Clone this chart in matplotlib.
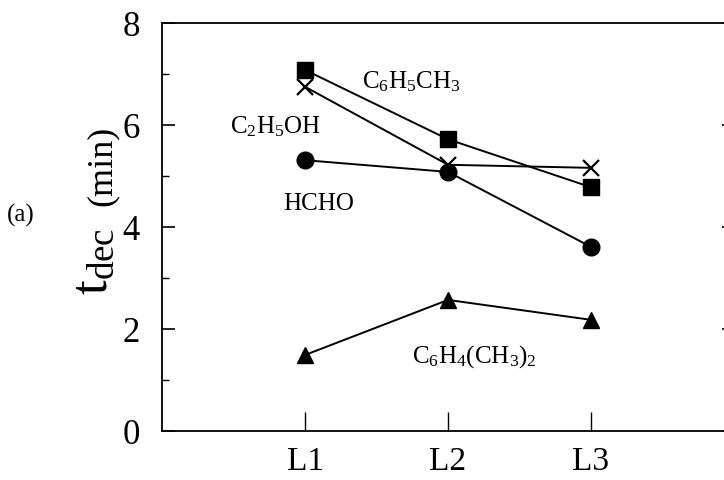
import matplotlib
matplotlib.use("Agg")
import matplotlib.pyplot as plt
from matplotlib.ticker import MultipleLocator

plt.rcParams['font.family'] = ['Liberation Serif', 'DejaVu Serif']
plt.rcParams['mathtext.fontset'] = 'custom'
plt.rcParams['mathtext.rm'] = 'Liberation Serif'
plt.rcParams['mathtext.it'] = 'Liberation Serif'

levels = ["L1", "L2", "L3"]
toluene = [7.08, 5.72, 4.78]
ethanol = [6.75, 5.22, 5.16]
formaldehyde = [5.31, 5.08, 3.61]
xylene = [1.49, 2.57, 2.18]

x = [1, 2, 3]

fig = plt.figure(figsize=(7.24, 4.80), dpi=100)
ax = fig.add_axes([162 / 724, 1 - 431 / 480, 572 / 724, 408 / 480])

ax.plot(x, toluene, color='black', lw=1.4, marker='s', ms=11)
ax.plot(x, ethanol, color='black', lw=1.4, marker='x', ms=11, mew=1.6)
ax.plot(x, formaldehyde, color='black', lw=1.4, marker='o', ms=12)
ax.plot(x, xylene, color='black', lw=1.4, marker='^', ms=12)

ax.set_xlim(0, 4)
ax.set_ylim(0, 8)
ax.set_xticks(x)
ax.set_xticklabels(levels)
ax.yaxis.set_major_locator(MultipleLocator(2))
ax.yaxis.set_minor_locator(MultipleLocator(1))
ax.tick_params(axis='x', direction='in', length=14, width=1.0, labelsize=24, pad=11)
ax.tick_params(axis='y', which='major', direction='in', length=9, width=1.2,
               labelsize=25, pad=16, right=True)
ax.tick_params(axis='y', which='minor', direction='in', length=5, width=1.0, right=True)
for sp in ax.spines.values():
    sp.set_linewidth(1.3)

# species labels next to their curves
lab = dict(fontsize=18, ha='left', va='baseline')
ax.text((362 - 162) / 143, (431 - 88) / 51, r'C$_6$H$_5$CH$_3$', **lab)
ax.text((230 - 162) / 143, (431 - 133) / 51, r'C$_2$H$_5$OH', **lab)
ax.text((283 - 162) / 143, (431 - 210) / 51, 'HCHO', **lab)
ax.text((412 - 162) / 143, (431 - 363) / 51, r'C$_6$H$_4$(CH$_3$)$_2$', **lab)

fig.text(0.010, 1 - 215 / 480, '(a)', fontsize=18, ha='left', va='center')
fig.text(0.130, 0.456, r'$\mathrm{t_{dec}}$', fontsize=38, rotation=90,
         ha='center', va='center')
fig.text(0.141, 0.654, '(min)', fontsize=26, rotation=90, ha='center', va='center')

fig.savefig("out.png", dpi=100)
